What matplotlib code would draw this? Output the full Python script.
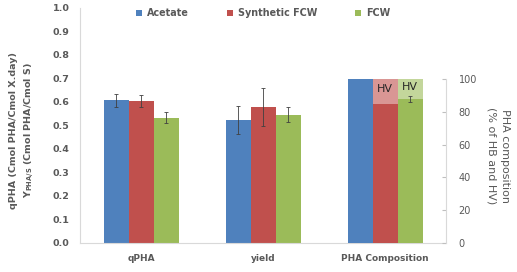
import numpy as np
import matplotlib.pyplot as plt
from matplotlib.patches import Patch

categories = ['qPHA', 'yield', 'PHA Composition']
series = ['Acetate', 'Synthetic FCW', 'FCW']

# left axis values (qPHA, yield)
acetate = [0.607, 0.523]
acetate_err = [0.028, 0.06]
synthetic = [0.603, 0.578]
synthetic_err = [0.025, 0.08]
fcw = [0.532, 0.546]
fcw_err = [0.023, 0.032]

# right axis values (PHA composition, % HB / HV)
hb = [100, 85, 88]
hv = [0, 15, 12]
hb_err = [0, 0, 2]

colors = ['#4F81BD', '#C0504D', '#9BBB59']
hv_colors = ['#95B3D7', '#D99694', '#C3D69B']
txt = '#595959'

plt.rcParams['font.family'] = 'DejaVu Sans'
plt.rcParams['font.size'] = 6.5

fig = plt.figure(figsize=(5.17, 2.72), dpi=100)
ax = fig.add_axes([0.155, 0.107, 0.708, 0.864])
ax2 = ax.twinx()

x = np.arange(len(categories))
w = 0.205
left_vals = [acetate, synthetic, fcw]
left_errs = [acetate_err, synthetic_err, fcw_err]
for i in range(3):
    xs = x[:2] + (i - 1) * w
    ax.bar(xs, left_vals[i], w, color=colors[i], zorder=2)
    ax.errorbar(xs, left_vals[i], yerr=left_errs[i], fmt='none', ecolor='#404040',
                elinewidth=0.6, capsize=1.2, capthick=0.6, zorder=3)

for i in range(3):
    xp = x[2] + (i - 1) * w
    ax2.bar(xp, hb[i], w, color=colors[i], zorder=2)
    if hv[i] > 0:
        ax2.bar(xp, hv[i], w, bottom=hb[i], color=hv_colors[i], zorder=2)
        ax2.text(xp, hb[i] + hv[i] / 2 + 1.5, 'HV', ha='center', va='center',
                 fontsize=8, color='#262626')
    if hb_err[i] > 0:
        ax2.errorbar(xp, hb[i], yerr=hb_err[i], fmt='none', ecolor='#404040',
                     elinewidth=0.6, capsize=1.2, capthick=0.6, zorder=3)

ax.set_xlim(-0.5, 2.5)
ax.set_ylim(0, 1.0)
ax.set_yticks(np.arange(0, 1.01, 0.1))
ax.set_yticklabels([f'{v:.1f}' for v in np.arange(0, 1.01, 0.1)])
ax.set_xticks(x)
ax.set_xticklabels(categories)
for lab in ax.get_xticklabels() + ax.get_yticklabels():
    lab.set_fontweight('bold')
    lab.set_color(txt)
ax.tick_params(axis='y', length=0, pad=7.5, labelsize=6.8)
ax.tick_params(axis='x', length=0, pad=8)

ax2.set_ylim(0, 143.6)
ax2.set_yticks(np.arange(0, 101, 20))
ax2.tick_params(axis='y', direction='in', length=3, color='#BFBFBF',
                labelcolor=txt, pad=9, labelsize=7)
ax2.spines['right'].set_bounds(0, 100)

for a in (ax, ax2):
    a.spines['top'].set_visible(False)
    for s in ('left', 'bottom', 'right'):
        a.spines[s].set_color('#D9D9D9')
        a.spines[s].set_linewidth(0.8)
ax.spines['right'].set_visible(False)
ax2.spines['left'].set_visible(False)
ax2.spines['bottom'].set_visible(False)

ax.set_ylabel('qPHA (Cmol PHA/Cmol X.day)\nY$_{\\mathbf{PHA/S}}$ (Cmol PHA/Cmol S)',
              color=txt, fontsize=6.8, fontweight='bold', linespacing=1.45)
ax.yaxis.set_label_coords(-0.12, 0.48)
ax2.set_ylabel('PHA composition\n(% of HB and HV)', rotation=270, color=txt,
               fontsize=8, linespacing=1.5)
ax2.yaxis.set_label_coords(1.175, 0.37)

handles = [Patch(facecolor=c) for c in colors]
leg = ax.legend(handles, series, loc='upper center', bbox_to_anchor=(0.5, 1.035),
                ncol=3, frameon=False, handlelength=0.6, handleheight=0.6,
                handletextpad=0.5, columnspacing=4.0, fontsize=6.9)
for t in leg.get_texts():
    t.set_fontweight('bold')
    t.set_color(txt)

fig.savefig('out.png', dpi=100)
